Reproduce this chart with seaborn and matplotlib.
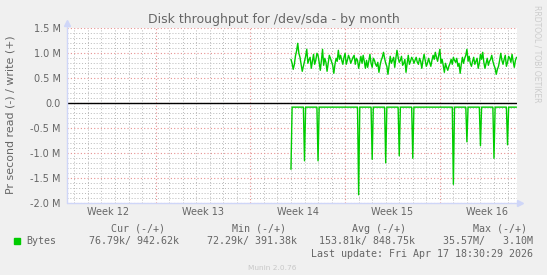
import numpy as np
import pandas as pd
import matplotlib
matplotlib.use("Agg")
import matplotlib.pyplot as plt
import seaborn as sns
from matplotlib.patches import Rectangle
from matplotlib.ticker import FuncFormatter

# ---------------- data ----------------
title = "Disk throughput for /dev/sda - by month"
ylabel = "Pr second read (-) / write (+)"
week_labels = ["Week 12", "Week 13", "Week 14", "Week 15", "Week 16"]
week_starts = [-7, 0, 7, 14, 21]          # days, relative to Monday of week 13
x_start, x_end = -6.57, 26.7               # visible time range (days)
y_ticks_m = [-2.0, -1.5, -1.0, -0.5, 0.0, 0.5, 1.0, 1.5]

# write (+) in MB/s, 2-hour samples starting at day 10
write_start_day = 10.0
write_step_days = 1 / 12
write_mbytes = [
    0.88, 0.80, 0.68, 0.78, 0.95, 1.05, 1.20, 1.00, 0.92, 0.78,
    0.64, 0.74, 0.85, 0.94, 1.08, 0.80, 0.88, 0.92, 0.70, 0.84,
    0.98, 0.78, 0.86, 1.00, 0.96, 0.82, 0.66, 0.86, 1.08, 0.76,
    0.90, 0.82, 0.64, 0.80, 0.96, 0.90, 0.83, 0.76, 0.60, 0.78,
    0.90, 0.84, 1.06, 0.88, 0.96, 0.86, 0.78, 0.92, 1.00, 0.78,
    0.86, 0.96, 0.90, 0.80, 0.86, 0.92, 0.96, 0.78, 0.90, 0.86,
    0.70, 0.82, 0.94, 0.80, 0.96, 0.84, 0.70, 0.86, 0.72, 0.84,
    0.98, 0.80, 0.72, 0.90, 0.86, 0.78, 0.74, 0.82, 0.62, 0.76,
    0.86, 0.92, 1.02, 0.90, 0.80, 0.74, 0.58, 0.76, 0.94, 0.80,
    0.86, 0.92, 0.72, 0.90, 1.06, 0.92, 0.82, 0.86, 0.94, 0.76,
    0.80, 0.88, 0.62, 0.80, 0.96, 0.78, 0.84, 0.92, 0.88, 0.80,
    0.86, 0.92, 0.82, 0.78, 0.90, 0.84, 0.70, 0.86, 0.98, 0.86,
    0.74, 0.80, 0.90, 0.82, 0.74, 0.86, 0.96, 0.88, 1.02, 0.92,
    0.84, 0.96, 1.08, 0.80, 0.88, 0.76, 0.62, 0.80, 0.72, 0.66,
    0.74, 0.80, 0.88, 0.78, 0.92, 0.86, 0.82, 0.90, 0.74, 0.80,
    0.60, 0.78, 0.92, 0.80, 0.90, 0.96, 1.08, 0.84, 0.94, 0.80,
    0.74, 0.84, 0.92, 0.78, 0.84, 0.90, 0.70, 0.80, 0.98, 0.88,
    1.02, 0.82, 0.70, 0.80, 0.90, 0.76, 0.84, 0.88, 0.96, 0.84,
    0.76, 0.70, 0.58, 0.68, 0.74, 0.86, 1.00, 0.86, 0.78, 0.88,
    0.96, 0.74, 0.82, 0.94, 0.90, 0.82, 0.98, 0.84, 0.72, 0.86,
    0.92,
]

# read (-) in MB/s: 2-hour samples, flat baseline with daily spikes
read_start_day = 10.0
read_step_days = 1 / 12
read_end_day = 26.67
read_baseline_mbytes = 0.0768
read_spike_days = [10, 11, 12, 15, 16, 17, 18, 19, 22, 23, 24, 25, 26]
read_spike_mbytes = [1.32, 1.15, 1.15, 1.83, 1.12, 1.19, 1.05, 1.10,
                     1.62, 0.77, 0.85, 1.10, 0.83]

legend_name = "Bytes"
legend_headers = ["Cur (-/+)", "Min (-/+)", "Avg (-/+)", "Max (-/+)"]
legend_values = ["76.79k/ 942.62k", "72.29k/ 391.38k",
                 "153.81k/ 848.75k", "35.57M/   3.10M"]
last_update = "Last update: Fri Apr 17 18:30:29 2026"
footer = "Munin 2.0.76"
side_text = "RRDTOOL / TOBI OETIKER"

# ---------------- build frames ----------------
w_days = write_start_day + np.arange(len(write_mbytes)) * write_step_days
df_w = pd.DataFrame({"day": w_days, "value": np.array(write_mbytes) * 1e6})

n_read = int(round((read_end_day - read_start_day) / read_step_days)) + 1
r_days = read_start_day + np.arange(n_read) * read_step_days
r_vals = np.full(n_read, read_baseline_mbytes)
for d, v in zip(read_spike_days, read_spike_mbytes):
    r_vals[int(round((d - read_start_day) / read_step_days))] = v
df_r = pd.DataFrame({"day": r_days, "value": -r_vals * 1e6})

# ---------------- style ----------------
sns.set_style("white")
plt.rcParams["font.family"] = ["DejaVu Sans"]
FONT = "#666666"
AXIS = "#CFD6F8"
GREEN = "#00CC00"
W, H = 547, 275

fig = plt.figure(figsize=(W / 100, H / 100), dpi=100, facecolor="#F0F0F0")
ax = fig.add_axes([66.7 / W, (H - 203.3) / H, 450.3 / W, 175 / H])
ax.set_facecolor("white")

sns.lineplot(data=df_w, x="day", y="value", color=GREEN, lw=1.0,
             estimator=None, ax=ax)
sns.lineplot(data=df_r, x="day", y="value", color=GREEN, lw=1.0,
             estimator=None, ax=ax)
ax.axhline(0, color="black", lw=1.0, zorder=3)

ax.set_xlim(x_start, x_end)
ax.set_ylim(-2.0e6, 1.5e6)

# grid
ax.set_xticks([d for d in week_starts if x_start < d < x_end])
ax.set_xticks(np.arange(np.ceil(x_start), x_end), minor=True)
ax.set_yticks(np.array(y_ticks_m) * 1e6)
ax.set_yticks(np.arange(-2.0, 1.5001, 0.1) * 1e6, minor=True)
ax.grid(which="minor", color="#b8b8b8", lw=0.7, linestyle=(0, (1, 2)))
ax.grid(which="major", color="#e89090", lw=0.8, linestyle=(0, (1, 2)))
ax.set_axisbelow(True)

ax.xaxis.set_ticklabels([])
ax.yaxis.set_major_formatter(
    FuncFormatter(lambda v, p: "0.0" if abs(v) < 1 else f"{v/1e6:.1f} M"))
ax.tick_params(axis="both", which="both", length=0)
ax.tick_params(axis="y", labelsize=7, labelcolor=FONT, pad=4.3)
ax.set_xlabel("")
ax.set_ylabel("")

for s in ax.spines.values():
    s.set_visible(False)
# axes with arrows
ax.plot([0, 0], [0, 1.025], transform=ax.transAxes, color=AXIS, lw=1,
        clip_on=False, zorder=4)
ax.plot([0], [1.03], transform=ax.transAxes, marker="^", color=AXIS, ms=4,
        clip_on=False, zorder=4)
ax.plot([0, 1.0], [0, 0], transform=ax.transAxes, color=AXIS, lw=1,
        clip_on=False, zorder=4)
ax.plot([1.006], [0], transform=ax.transAxes, marker=">", color=AXIS, ms=4,
        clip_on=False, zorder=4)

# week labels centered in each week
xt = ax.get_xaxis_transform()
for ws, lab in zip(week_starts, week_labels):
    ax.text(ws + 3.5, -0.05, lab, transform=xt, ha="center", va="center",
            fontsize=7, color=FONT)

def fx(px):
    return px / W

def fy(py):
    return 1 - py / H

fig.text(fx(273.5), fy(19.5), title, ha="center", va="center",
         fontsize=9, color=FONT)
fig.text(fx(10.5), fy(115), ylabel, rotation=90, ha="center", va="center",
         fontsize=7.9, color=FONT)
fig.text(fx(537), fy(5), side_text, rotation=270, ha="center", va="top",
         fontsize=5.5, color="#cccccc")

mono = "DejaVu Sans Mono"
for hx, h in zip([111, 232, 352.5, 473], legend_headers):
    fig.text(fx(hx), fy(228.8), h, ha="left", va="center", fontsize=7.2,
             family=mono, color=FONT)
fig.patches.append(Rectangle((fx(14), fy(244)), 6 / W, 6 / H,
                             transform=fig.transFigure, color=GREEN))
fig.text(fx(26), fy(241), legend_name, ha="left", va="center", fontsize=7.2,
         family=mono, color=FONT)
for vx, v in zip([179, 297, 415, 533], legend_values):
    fig.text(fx(vx), fy(241), v, ha="right", va="center", fontsize=7.2,
             family=mono, color=FONT)
fig.text(fx(533), fy(253.6), last_update, ha="right", va="center",
         fontsize=7.2, family=mono, color=FONT)
fig.text(fx(272.5), fy(267.6), footer, ha="center", va="center",
         fontsize=5.3, color="#c8c8c8")

fig.savefig("out.png", dpi=100, facecolor=fig.get_facecolor())
